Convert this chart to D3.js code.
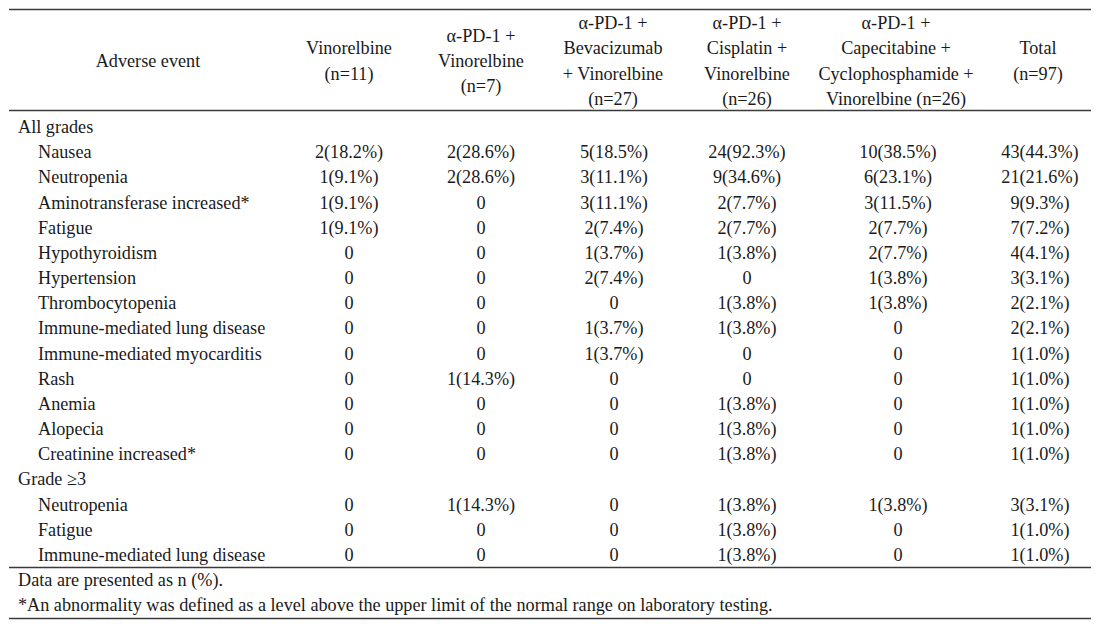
<!DOCTYPE html>
<html>
<head>
<meta charset="utf-8">
<script src="https://cdn.jsdelivr.net/npm/d3@7"></script>
<style>
  html, body { margin: 0; padding: 0; background: #ffffff; }
  svg { display: block; }
  text { font-family: "Liberation Serif", "Times New Roman", serif; font-size: 18.2px; fill: #1a1a1a; }
</style>
</head>
<body>
<svg id="chart" width="1096" height="626"></svg>
<script>
// ---------- DATA ----------
const columnKeys = ["vin", "pdVin", "pdBevVin", "pdCisVin", "pdCapCycVin", "total"];
const columnHeaders = [
  ["Vinorelbine", "(n=11)"],
  ["α-PD-1 +", "Vinorelbine", "(n=7)"],
  ["α-PD-1 +", "Bevacizumab", "+ Vinorelbine", "(n=27)"],
  ["α-PD-1 +", "Cisplatin +", "Vinorelbine", "(n=26)"],
  ["α-PD-1 +", "Capecitabine +", "Cyclophosphamide +", "Vinorelbine (n=26)"],
  ["Total", "(n=97)"]
];
const firstHeader = "Adverse event";

const groupAll = "All grades";
const eventsAll = [
  "Nausea", "Neutropenia", "Aminotransferase increased*", "Fatigue", "Hypothyroidism",
  "Hypertension", "Thrombocytopenia", "Immune-mediated lung disease",
  "Immune-mediated myocarditis", "Rash", "Anemia", "Alopecia", "Creatinine increased*"
];
const valuesAll = [
  ["2(18.2%)", "2(28.6%)", "5(18.5%)", "24(92.3%)", "10(38.5%)", "43(44.3%)"],
  ["1(9.1%)", "2(28.6%)", "3(11.1%)", "9(34.6%)", "6(23.1%)", "21(21.6%)"],
  ["1(9.1%)", "0", "3(11.1%)", "2(7.7%)", "3(11.5%)", "9(9.3%)"],
  ["1(9.1%)", "0", "2(7.4%)", "2(7.7%)", "2(7.7%)", "7(7.2%)"],
  ["0", "0", "1(3.7%)", "1(3.8%)", "2(7.7%)", "4(4.1%)"],
  ["0", "0", "2(7.4%)", "0", "1(3.8%)", "3(3.1%)"],
  ["0", "0", "0", "1(3.8%)", "1(3.8%)", "2(2.1%)"],
  ["0", "0", "1(3.7%)", "1(3.8%)", "0", "2(2.1%)"],
  ["0", "0", "1(3.7%)", "0", "0", "1(1.0%)"],
  ["0", "1(14.3%)", "0", "0", "0", "1(1.0%)"],
  ["0", "0", "0", "1(3.8%)", "0", "1(1.0%)"],
  ["0", "0", "0", "1(3.8%)", "0", "1(1.0%)"],
  ["0", "0", "0", "1(3.8%)", "0", "1(1.0%)"]
];

const groupSevere = "Grade ≥3";
const eventsSevere = ["Neutropenia", "Fatigue", "Immune-mediated lung disease"];
const valuesSevere = [
  ["0", "1(14.3%)", "0", "1(3.8%)", "1(3.8%)", "3(3.1%)"],
  ["0", "0", "0", "1(3.8%)", "0", "1(1.0%)"],
  ["0", "0", "0", "1(3.8%)", "0", "1(1.0%)"]
];

const footnotes = [
  "Data are presented as n (%).",
  "*An abnormality was defined as a level above the upper limit of the normal range on laboratory testing."
];

// ---------- LAYOUT ----------
const svg = d3.select("#chart");
const lineLeft = 9, lineRight = 1091;
const lineColor = "#3a3a3a";

const rows = [];
rows.push({ type: "group", label: groupAll, values: null });
eventsAll.forEach((e, i) => rows.push({ type: "item", label: e, values: valuesAll[i] }));
rows.push({ type: "group", label: groupSevere, values: null });
eventsSevere.forEach((e, i) => rows.push({ type: "item", label: e, values: valuesSevere[i] }));

const y = d3.scalePoint().domain(d3.range(rows.length)).range([127, 555]);
const yFoot = d3.scalePoint().domain(d3.range(footnotes.length)).range([580, 605]);

const x = d3.scaleOrdinal().domain(columnKeys).range([349, 481, 614, 747, 898, 1040]);
const xHeader = d3.scaleOrdinal().domain(columnKeys).range([349, 481, 613, 747, 896, 1038]);
const labelX = { group: 18, item: 38 };

const headerCenter = 61, headerLineH = 25.3;

const rules = [9.5, 110.5, 567.5, 618.5];
svg.selectAll("line.rule").data(rules).join("line")
  .attr("class", "rule")
  .attr("x1", lineLeft).attr("x2", lineRight)
  .attr("y1", d => d).attr("y2", d => d)
  .attr("stroke", lineColor).attr("stroke-width", 1.3);

svg.append("text")
  .attr("x", 148).attr("y", headerCenter)
  .attr("text-anchor", "middle").attr("dominant-baseline", "central")
  .text(firstHeader);

const hdr = svg.selectAll("g.hdr").data(columnKeys).join("g").attr("class", "hdr");
hdr.each(function (k, i) {
  const lines = columnHeaders[i];
  const y0 = headerCenter - (lines.length - 1) * headerLineH / 2;
  d3.select(this).selectAll("text").data(lines).join("text")
    .attr("x", xHeader(k))
    .attr("y", (d, j) => y0 + j * headerLineH)
    .attr("text-anchor", "middle").attr("dominant-baseline", "central")
    .text(d => d);
});

const rowG = svg.selectAll("g.row").data(rows).join("g").attr("class", "row")
  .attr("transform", (d, i) => `translate(0,${y(i)})`);
rowG.append("text")
  .attr("x", d => labelX[d.type])
  .attr("dominant-baseline", "central")
  .text(d => d.label);
rowG.filter(d => d.values).selectAll("text.val")
  .data(d => d.values.map((v, j) => ({ v, k: columnKeys[j] })))
  .join("text").attr("class", "val")
  .attr("x", d => x(d.k))
  .attr("text-anchor", "middle").attr("dominant-baseline", "central")
  .text(d => d.v);

svg.selectAll("text.foot").data(footnotes).join("text")
  .attr("class", "foot")
  .attr("x", 18).attr("y", (d, i) => yFoot(i))
  .attr("dominant-baseline", "central")
  .text(d => d);
</script>
</body>
</html>
